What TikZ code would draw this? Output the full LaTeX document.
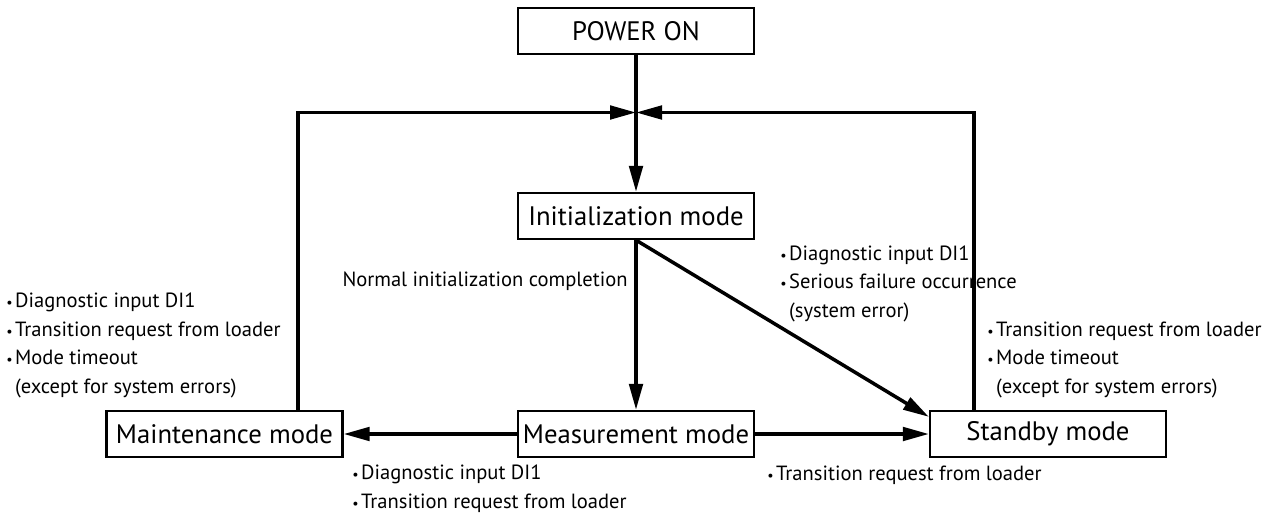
\documentclass[tikz,border=0pt]{standalone}
\usepackage{fontspec}
\setmainfont{PT Sans}
\usetikzlibrary{arrows.meta}
\newcommand{\itm}{{\footnotesize\textbullet}\hspace{0.05cm}}
\newcommand{\ind}{\phantom{\itm}}

\begin{document}
\begin{tikzpicture}[
  modebox/.style={draw, line width=1.3pt, minimum width=4.72cm, minimum height=0.92cm,
    inner sep=0pt, font=\fontsize{15.2}{18}\selectfont},
  lbl/.style={align=left, inner sep=0pt, font=\fontsize{11.7}{16.2}\selectfont},
  >={Triangle[length=5.2mm,width=2.7mm]}]
\useasboundingbox (0,0) rectangle (25.58,-10.34);

\node[modebox] (PO) at (12.72,-0.62) {POWER ON};
\node[modebox] (IM) at (12.72,-4.32) {Initialization mode};
\node[modebox] (MM) at (12.72,-8.68) {Measurement mode};
\node[modebox] (MT) at (4.49,-8.68) {Maintenance mode};
\node[modebox] (SB) at (20.96,-8.68) {Standby mode};

\coordinate (J) at (12.72,-2.25);
\coordinate (JL) at (5.96,-2.25);
\coordinate (JR) at (19.48,-2.25);

\path[->, line width=2pt] (PO) edge [] node[]{} (IM);
\path[->, line width=2pt] (IM) edge [] node[]{} (MM);
\path[->, line width=2pt] (MM) edge [] node[]{} (MT);
\path[->, line width=2pt] (MM) edge [] node[]{} (SB);
\path[->, line width=2pt] (IM.south) edge [] node[]{} ([yshift=-0.14cm]SB.north west);

\draw[->, line width=2pt] (MT.north -| JL) -- (JL) -- (J);
\draw[->, line width=2pt] (SB.north -| JR) -- (JR) -- (J);

\node[lbl, anchor=base east] (L1) at (12.56,-5.72) {Normal initialization completion};
\node[lbl, anchor=base west] (L2) at (0.12,-7.86) {\itm Diagnostic input DI1\\ \itm Transition request from loader\\ \itm Mode timeout\\ \ind(except for system errors)};
\node[lbl, anchor=base west] (L3) at (15.60,-6.34) {\itm Diagnostic input DI1\\ \itm Serious failure occurrence\\ \ind(system error)};
\node[lbl, anchor=base west] (L4) at (19.74,-7.86) {\itm Transition request from loader\\ \itm Mode timeout\\ \ind(except for system errors)};
\node[lbl, anchor=base west] (L5) at (7.04,-10.16) {\itm Diagnostic input DI1\\ \itm Transition request from loader};
\node[lbl, anchor=base west] (L6) at (15.34,-9.60) {\itm Transition request from loader};
\end{tikzpicture}
\end{document}
